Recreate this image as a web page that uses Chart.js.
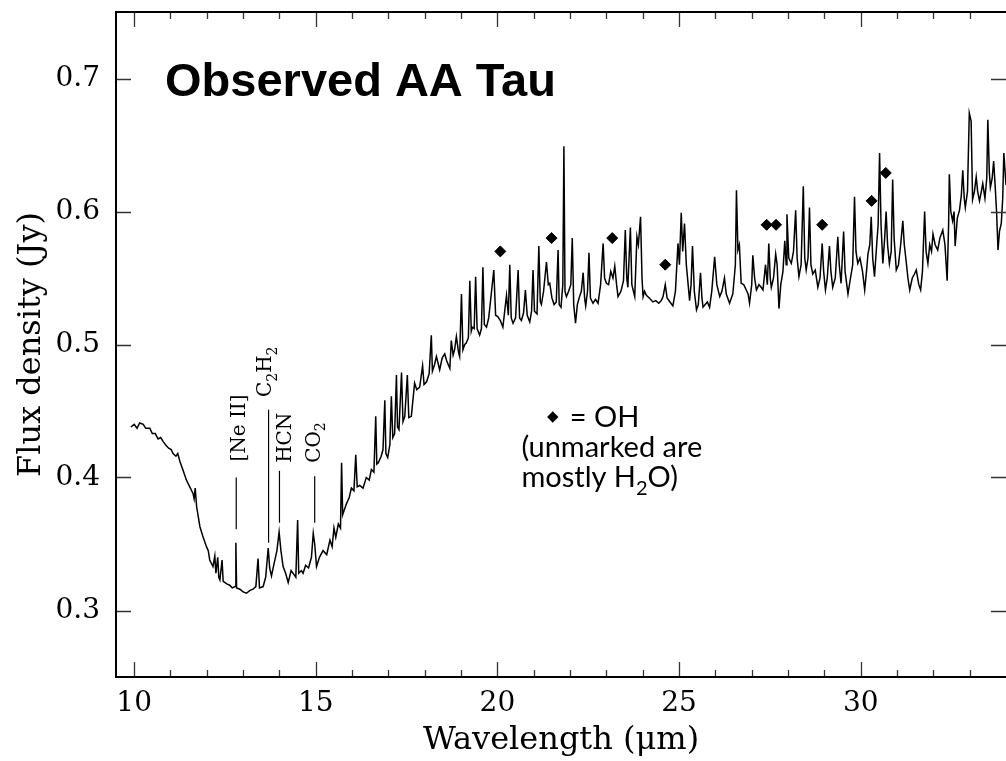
<!DOCTYPE html>
<html lang="en">
<head>
<meta charset="UTF-8">
<title>Observed AA Tau</title>
<style>
  body { margin: 0; background: #fff; }
  #wrap { width: 1006px; height: 761px; }
</style>
</head>
<body>
<div id="wrap"><canvas id="spec" width="1006" height="761"></canvas></div>
<script src="https://cdn.jsdelivr.net/npm/chart.js"></script>
<script>
// spectrum, 10 points per row (wavelength in micron, flux in Jy)
const wavelength = [
  9.91,10.00,10.08,10.15,10.25,10.32,10.43,10.50,10.58,10.66,
  10.73,10.80,10.88,10.95,11.02,11.07,11.15,11.20,11.26,11.35,
  11.44,11.53,11.62,11.65,11.68,11.72,11.81,11.90,11.99,12.04,
  12.08,12.17,12.22,12.25,12.30,12.33,12.36,12.42,12.45,12.55,
  12.63,12.70,12.78,12.80,12.82,12.91,13.00,13.09,13.18,13.27,
  13.35,13.41,13.45,13.55,13.62,13.69,13.73,13.78,13.85,13.93,
  13.99,14.04,14.10,14.17,14.24,14.32,14.40,14.45,14.50,14.53,
  14.60,14.65,14.72,14.80,14.88,14.93,14.97,15.02,15.10,15.20,
  15.30,15.39,15.45,15.50,15.55,15.62,15.68,15.71,15.74,15.84,
  15.92,15.98,16.05,16.10,16.14,16.21,16.30,16.39,16.47,16.53,
  16.60,16.65,16.68,16.72,16.80,16.85,16.90,16.93,16.98,17.04,
  17.08,17.12,17.17,17.22,17.25,17.29,17.36,17.40,17.45,17.52,
  17.56,17.63,17.68,17.72,17.78,17.86,17.94,17.98,18.05,18.12,
  18.18,18.21,18.27,18.32,18.41,18.48,18.55,18.60,18.69,18.73,
  18.78,18.82,18.87,18.93,18.96,19.01,19.05,19.10,19.14,19.20,
  19.24,19.28,19.31,19.36,19.40,19.44,19.51,19.56,19.60,19.64,
  19.70,19.76,19.83,19.90,19.95,20.01,20.08,20.15,20.20,20.25,
  20.30,20.34,20.38,20.43,20.50,20.57,20.61,20.66,20.72,20.77,
  20.82,20.89,20.94,20.98,21.02,21.09,21.14,21.18,21.21,21.27,
  21.35,21.40,21.44,21.50,21.56,21.62,21.67,21.70,21.75,21.80,
  21.83,21.86,21.90,21.96,22.02,22.06,22.10,22.15,22.20,22.26,
  22.31,22.36,22.40,22.43,22.48,22.52,22.56,22.63,22.70,22.77,
  22.84,22.91,22.95,23.00,23.06,23.12,23.18,23.23,23.28,23.32,
  23.40,23.47,23.52,23.56,23.59,23.66,23.70,23.78,23.84,23.88,
  23.94,23.98,24.01,24.05,24.10,24.18,24.28,24.36,24.44,24.51,
  24.56,24.62,24.67,24.75,24.83,24.90,24.97,25.01,25.06,25.10,
  25.15,25.20,25.25,25.29,25.33,25.37,25.42,25.48,25.53,25.59,
  25.63,25.66,25.72,25.78,25.84,25.90,25.98,26.04,26.12,26.18,
  26.25,26.30,26.39,26.44,26.48,26.55,26.58,26.62,26.66,26.71,
  26.78,26.85,26.90,26.94,27.00,27.03,27.08,27.13,27.20,27.26,
  27.31,27.38,27.43,27.47,27.51,27.54,27.60,27.66,27.70,27.75,
  27.80,27.86,27.91,27.95,27.97,28.02,28.09,28.15,28.21,28.25,
  28.30,28.36,28.42,28.46,28.50,28.55,28.59,28.63,28.68,28.75,
  28.82,28.88,28.94,28.98,29.03,29.08,29.14,29.18,29.23,29.30,
  29.37,29.41,29.46,29.53,29.57,29.65,29.72,29.78,29.83,29.87,
  29.92,29.98,30.05,30.11,30.16,30.20,30.25,30.29,30.33,30.38,
  30.44,30.48,30.52,30.56,30.61,30.66,30.70,30.74,30.79,30.84,
  30.88,30.92,30.98,31.04,31.10,31.16,31.20,31.25,31.30,31.35,
  31.42,31.48,31.53,31.60,31.65,31.70,31.76,31.80,31.85,31.90,
  31.95,31.99,32.05,32.12,32.18,32.26,32.32,32.38,32.42,32.44,
  32.48,32.53,32.57,32.60,32.66,32.72,32.77,32.81,32.85,32.88,
  32.94,32.99,33.04,33.08,33.13,33.18,33.22,33.27,33.32,33.36,
  33.42,33.47,33.50,33.54,33.57,33.62,33.66,33.70,33.74,33.78,
  33.82,33.87,33.91,33.94,34.00
];
const flux = [
  0.438,0.440,0.437,0.441,0.440,0.437,0.437,0.433,0.433,0.429,
  0.430,0.427,0.424,0.422,0.421,0.418,0.416,0.418,0.412,0.405,
  0.398,0.393,0.388,0.384,0.392,0.378,0.363,0.355,0.348,0.345,
  0.338,0.333,0.341,0.328,0.340,0.325,0.323,0.338,0.322,0.320,
  0.319,0.317,0.318,0.351,0.317,0.316,0.314,0.313,0.315,0.316,
  0.318,0.339,0.317,0.318,0.325,0.347,0.332,0.326,0.335,0.345,
  0.359,0.345,0.333,0.328,0.321,0.330,0.327,0.325,0.368,0.328,
  0.330,0.328,0.334,0.332,0.340,0.358,0.350,0.333,0.340,0.345,
  0.342,0.353,0.348,0.362,0.355,0.365,0.362,0.411,0.372,0.380,
  0.385,0.392,0.390,0.417,0.393,0.394,0.392,0.400,0.398,0.406,
  0.404,0.446,0.410,0.411,0.416,0.421,0.458,0.418,0.415,0.425,
  0.461,0.430,0.433,0.477,0.438,0.436,0.479,0.442,0.446,0.477,
  0.445,0.446,0.460,0.471,0.466,0.468,0.484,0.470,0.472,0.478,
  0.507,0.480,0.485,0.491,0.481,0.490,0.493,0.488,0.482,0.503,
  0.492,0.496,0.506,0.494,0.491,0.538,0.496,0.500,0.501,0.505,
  0.548,0.510,0.513,0.512,0.551,0.512,0.507,0.512,0.558,0.515,
  0.513,0.520,0.538,0.556,0.522,0.521,0.518,0.513,0.525,0.537,
  0.522,0.560,0.520,0.516,0.520,0.556,0.520,0.518,0.524,0.541,
  0.522,0.517,0.525,0.556,0.525,0.523,0.574,0.532,0.530,0.540,
  0.562,0.545,0.546,0.535,0.530,0.532,0.571,0.530,0.528,0.545,
  0.649,0.540,0.536,0.540,0.545,0.580,0.530,0.516,0.530,0.536,
  0.540,0.554,0.535,0.529,0.540,0.569,0.535,0.531,0.534,0.531,
  0.545,0.576,0.550,0.546,0.545,0.555,0.550,0.559,0.545,0.536,
  0.540,0.548,0.586,0.550,0.543,0.588,0.545,0.536,0.581,0.575,
  0.596,0.550,0.536,0.540,0.537,0.535,0.532,0.533,0.531,0.533,
  0.536,0.545,0.535,0.532,0.529,0.540,0.576,0.560,0.599,0.570,
  0.591,0.560,0.545,0.533,0.545,0.574,0.540,0.526,0.530,0.554,
  0.535,0.528,0.530,0.532,0.528,0.540,0.566,0.545,0.536,0.540,
  0.550,0.538,0.531,0.535,0.538,0.560,0.616,0.571,0.575,0.546,
  0.545,0.541,0.538,0.531,0.545,0.567,0.550,0.541,0.545,0.543,
  0.541,0.560,0.545,0.576,0.550,0.543,0.550,0.568,0.560,0.527,
  0.545,0.555,0.578,0.560,0.598,0.565,0.561,0.570,0.601,0.565,
  0.551,0.560,0.619,0.565,0.556,0.565,0.603,0.560,0.553,0.556,
  0.543,0.550,0.576,0.555,0.541,0.550,0.574,0.555,0.543,0.550,
  0.581,0.560,0.546,0.585,0.555,0.538,0.550,0.560,0.611,0.570,
  0.561,0.565,0.555,0.541,0.555,0.568,0.575,0.596,0.565,0.551,
  0.575,0.590,0.644,0.590,0.561,0.580,0.600,0.575,0.561,0.570,
  0.624,0.580,0.556,0.560,0.575,0.593,0.575,0.563,0.550,0.541,
  0.550,0.553,0.556,0.545,0.541,0.555,0.600,0.570,0.561,0.575,
  0.570,0.583,0.575,0.571,0.580,0.586,0.575,0.548,0.590,0.628,
  0.600,0.593,0.600,0.574,0.595,0.601,0.612,0.631,0.610,0.603,
  0.615,0.674,0.668,0.609,0.615,0.626,0.615,0.608,0.615,0.621,
  0.610,0.625,0.669,0.630,0.618,0.625,0.638,0.620,0.600,0.571,
  0.585,0.591,0.610,0.644,0.620
];

// OH line markers (diamonds)
const ohWavelength = [20.08, 21.49, 23.16, 24.62, 27.41, 27.67, 28.94, 30.30, 30.69];
const ohFlux = [0.570, 0.580, 0.580, 0.560, 0.590, 0.590, 0.590, 0.608, 0.629];

// molecular / atomic line marks: wavelength, bottom and top of the tick
const lineWavelength = [12.81, 13.70, 14.00, 14.97];
const lineLow = [0.361, 0.351, 0.366, 0.366];
const lineHigh = [0.400, 0.451, 0.405, 0.401];

const xTickLabels = [10, 15, 20, 25, 30];
const yTickLabels = [0.3, 0.4, 0.5, 0.6, 0.7];

const SERIF = "'DejaVu Serif', 'Liberation Serif', serif";

// draw a string with subscript pieces, starting at (0,0) on the baseline
function drawRich(ctx, parts, size, family) {
    let x = 0;
    parts.forEach(p => {
        const s = p.sub ? Math.round(size * 0.68) : size;
        ctx.font = s + 'px ' + family;
        ctx.fillText(p.t, x, p.sub ? size * 0.28 : 0);
        x += ctx.measureText(p.t).width;
    });
}

// frame and inward ticks like the original plot
const framePlugin = {
    id: 'frame',
    afterDatasetsDraw(chart) {
        const { ctx, chartArea: a, scales: { x, y } } = chart;
        ctx.save();
        ctx.strokeStyle = '#333';
        ctx.lineWidth = 1.3;
        ctx.beginPath();
        for (let v = 10; v <= 33; v++) {
            const px = Math.round(x.getPixelForValue(v)) + 0.5;
            const len = v % 5 === 0 ? 15 : 7;
            ctx.moveTo(px, a.bottom); ctx.lineTo(px, a.bottom - len);
            ctx.moveTo(px, a.top); ctx.lineTo(px, a.top + len);
        }
        yTickLabels.forEach(v => {
            const py = Math.round(y.getPixelForValue(v)) + 0.5;
            ctx.moveTo(a.left, py); ctx.lineTo(a.left + 15, py);
            ctx.moveTo(a.right, py); ctx.lineTo(a.right - 15, py);
        });
        ctx.stroke();

        ctx.strokeStyle = '#000';
        ctx.lineWidth = 2;
        ctx.beginPath();
        ctx.moveTo(a.right + 4, a.top);
        ctx.lineTo(a.left, a.top);
        ctx.lineTo(a.left, a.bottom);
        ctx.lineTo(a.right + 4, a.bottom);
        ctx.stroke();
        ctx.restore();
    }
};

// title, OH note and the vertical line labels
const notesPlugin = {
    id: 'notes',
    afterDraw(chart) {
        const { ctx, scales: { x, y } } = chart;
        ctx.save();
        ctx.fillStyle = '#000';
        ctx.textAlign = 'left';
        ctx.textBaseline = 'alphabetic';

        ctx.font = "bold 47px 'Liberation Sans', Arial, sans-serif";
        ctx.fillText('Observed AA Tau', x.getPixelForValue(10.85), y.getPixelForValue(0.687));

        const sans = "Lato, 'Open Sans', sans-serif";
        ctx.textAlign = 'center';
        ctx.textBaseline = 'middle';
        ctx.font = "15px 'DejaVu Sans', sans-serif";
        ctx.fillText('◆', x.getPixelForValue(21.52), y.getPixelForValue(0.4455));
        ctx.textAlign = 'left';
        ctx.textBaseline = 'alphabetic';
        ctx.font = '29px ' + sans;
        ctx.fillText('= OH', x.getPixelForValue(21.99), y.getPixelForValue(0.438));
        ctx.fillText('(unmarked are', x.getPixelForValue(20.66), y.getPixelForValue(0.4152));
        ctx.save();
        ctx.translate(x.getPixelForValue(20.66), y.getPixelForValue(0.393));
        drawRich(ctx, [{ t: 'mostly H' }, { t: '2', sub: true }, { t: 'O)' }], 29, sans);
        ctx.restore();

        const labels = [
            { wl: 13.05, v: 0.412, parts: [{ t: '[Ne II]' }] },
            { wl: 13.78, v: 0.4605, parts: [{ t: 'C' }, { t: '2', sub: true }, { t: 'H' }, { t: '2', sub: true }] },
            { wl: 14.33, v: 0.411, parts: [{ t: 'HCN' }] },
            { wl: 15.11, v: 0.411, parts: [{ t: 'CO' }, { t: '2', sub: true }] }
        ];
        labels.forEach(l => {
            ctx.save();
            ctx.translate(x.getPixelForValue(l.wl), y.getPixelForValue(l.v));
            ctx.rotate(-Math.PI / 2);
            drawRich(ctx, l.parts, 20, SERIF);
            ctx.restore();
        });
        ctx.restore();
    }
};

const datasets = [{
    type: 'line',
    data: wavelength.map((w, i) => ({ x: w, y: flux[i] })),
    borderColor: '#000',
    borderWidth: 1.5,
    pointRadius: 0,
    tension: 0,
    fill: false
}];

lineWavelength.forEach((w, i) => {
    datasets.push({
        type: 'line',
        data: [{ x: w, y: lineLow[i] }, { x: w, y: lineHigh[i] }],
        borderColor: '#000',
        borderWidth: 1.2,
        pointRadius: 0,
        fill: false
    });
});

datasets.push({
    type: 'scatter',
    data: ohWavelength.map((w, i) => ({ x: w, y: ohFlux[i] })),
    pointStyle: 'rectRot',
    pointRadius: 5.5,
    backgroundColor: '#000',
    borderColor: '#000',
    borderWidth: 1
});

new Chart(document.getElementById('spec'), {
    type: 'line',
    data: { datasets: datasets },
    options: {
        responsive: false,
        animation: false,
        devicePixelRatio: 1,
        layout: { autoPadding: false, padding: { top: 12, right: 0, left: 0, bottom: 0 } },
        plugins: {
            legend: { display: false },
            tooltip: { enabled: false }
        },
        scales: {
            x: {
                type: 'linear',
                min: 9.5,
                max: 34,
                grid: { display: false, drawTicks: false },
                border: { display: false },
                afterBuildTicks: s => { s.ticks = xTickLabels.map(v => ({ value: v })); },
                afterFit: s => { s.height = 84; s.paddingLeft = 0; s.paddingRight = 0; },
                ticks: {
                    font: { family: SERIF, size: 28 },
                    color: '#000',
                    padding: 10,
                    maxRotation: 0,
                    autoSkip: false
                },
                title: {
                    display: true,
                    text: 'Wavelength (μm)',
                    font: { family: SERIF, size: 32 },
                    color: '#000',
                    padding: { top: 0, bottom: 1 }
                }
            },
            y: {
                type: 'linear',
                min: 0.25,
                max: 0.75,
                grid: { display: false, drawTicks: false },
                border: { display: false },
                afterBuildTicks: s => { s.ticks = yTickLabels.map(v => ({ value: v })); },
                afterFit: s => { s.width = 116; s.paddingTop = 0; s.paddingBottom = 0; },
                ticks: {
                    font: { family: SERIF, size: 28 },
                    color: '#000',
                    padding: 16,
                    callback: v => v.toFixed(1)
                },
                title: {
                    display: true,
                    text: 'Flux density (Jy)',
                    font: { family: SERIF, size: 32 },
                    color: '#000',
                    padding: { top: 12, bottom: 0 }
                }
            }
        }
    },
    plugins: [framePlugin, notesPlugin]
});
</script>
</body>
</html>
